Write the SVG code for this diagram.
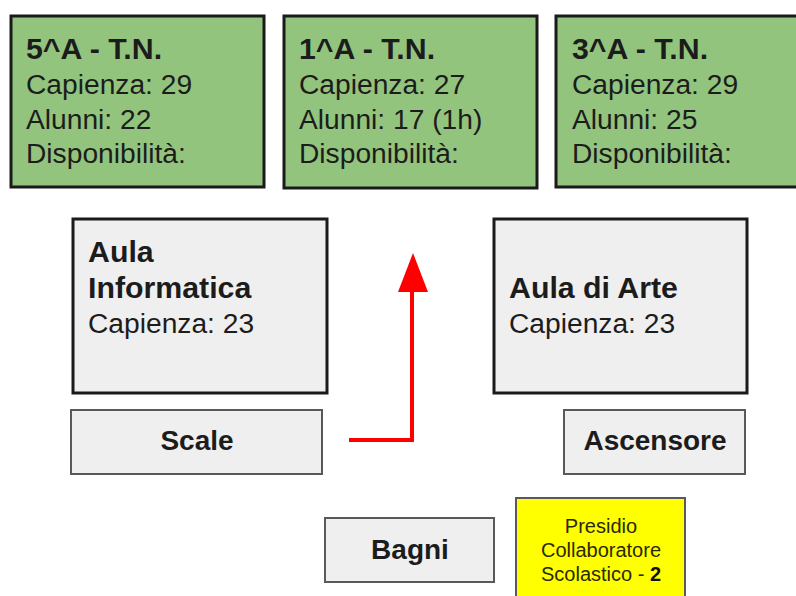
<svg xmlns="http://www.w3.org/2000/svg" width="796" height="596" viewBox="0 0 796 596">
<style>
text{font-family:"Liberation Sans",Arial,sans-serif;fill:#1c1c1c}
.g{fill:#93c47d;stroke:#1a1a1a;stroke-width:3}
.big{fill:#efefef;stroke:#1a1a1a;stroke-width:3}
.sm{fill:#efefef;stroke:#595959;stroke-width:2}
.y{fill:#ffff00;stroke:#595959;stroke-width:2}
.t{font-size:30.3px;font-weight:bold}
.r{font-size:28.2px}
.b{font-size:28px;font-weight:bold;text-anchor:middle}
.s{font-size:20px;text-anchor:middle;fill:#2a2a00}
</style>
<rect width="796" height="596" fill="#ffffff"/>
<g id="connectors">
<path d="M349,440 H412 V292" fill="none" stroke="#ff0000" stroke-width="4"/>
<path d="M398,292 L413,253 L428,292 Z" fill="#ff0000"/>
</g>
<g id="c5a">
<rect class="g" x="11" y="16" width="253" height="171"/>
<text class="t" x="26" y="59">5^A - T.N.</text>
<text class="r" x="26" y="94">Capienza: 29</text>
<text class="r" x="26" y="129">Alunni: 22</text>
<text class="r" x="26" y="163">Disponibilità:</text>
</g>
<g id="c1a">
<rect class="g" x="284" y="16" width="253" height="172"/>
<text class="t" x="299" y="59">1^A - T.N.</text>
<text class="r" x="299" y="94">Capienza: 27</text>
<text class="r" x="299" y="129">Alunni: 17 (1h)</text>
<text class="r" x="299" y="163">Disponibilità:</text>
</g>
<g id="c3a">
<rect class="g" x="556" y="16" width="250" height="171"/>
<text class="t" x="572" y="59">3^A - T.N.</text>
<text class="r" x="572" y="94">Capienza: 29</text>
<text class="r" x="572" y="129">Alunni: 25</text>
<text class="r" x="572" y="163">Disponibilità:</text>
</g>
<g id="informatica">
<rect class="big" x="73" y="219" width="254" height="174"/>
<text class="t" x="88" y="262">Aula</text>
<text class="t" x="88" y="298">Informatica</text>
<text class="r" x="88" y="333">Capienza: 23</text>
</g>
<g id="arte">
<rect class="big" x="494" y="219" width="253" height="174"/>
<text class="t" x="509" y="298">Aula di Arte</text>
<text class="r" x="509" y="333">Capienza: 23</text>
</g>
<g id="scale">
<rect class="sm" x="71" y="410" width="251" height="64"/>
<text class="b" x="197" y="450">Scale</text>
</g>
<g id="ascensore">
<rect class="sm" x="564" y="410" width="181" height="64"/>
<text class="b" x="655" y="450">Ascensore</text>
</g>
<g id="bagni">
<rect class="sm" x="325" y="518" width="169" height="64"/>
<text class="b" x="410" y="559">Bagni</text>
</g>
<g id="presidio">
<rect class="y" x="516" y="498" width="169" height="110"/>
<text class="s" x="601" y="533">Presidio</text>
<text class="s" x="601" y="557">Collaboratore</text>
<text class="s" x="601" y="581">Scolastico - <tspan font-weight="bold" fill="#111">2</tspan></text>
</g>
</svg>
